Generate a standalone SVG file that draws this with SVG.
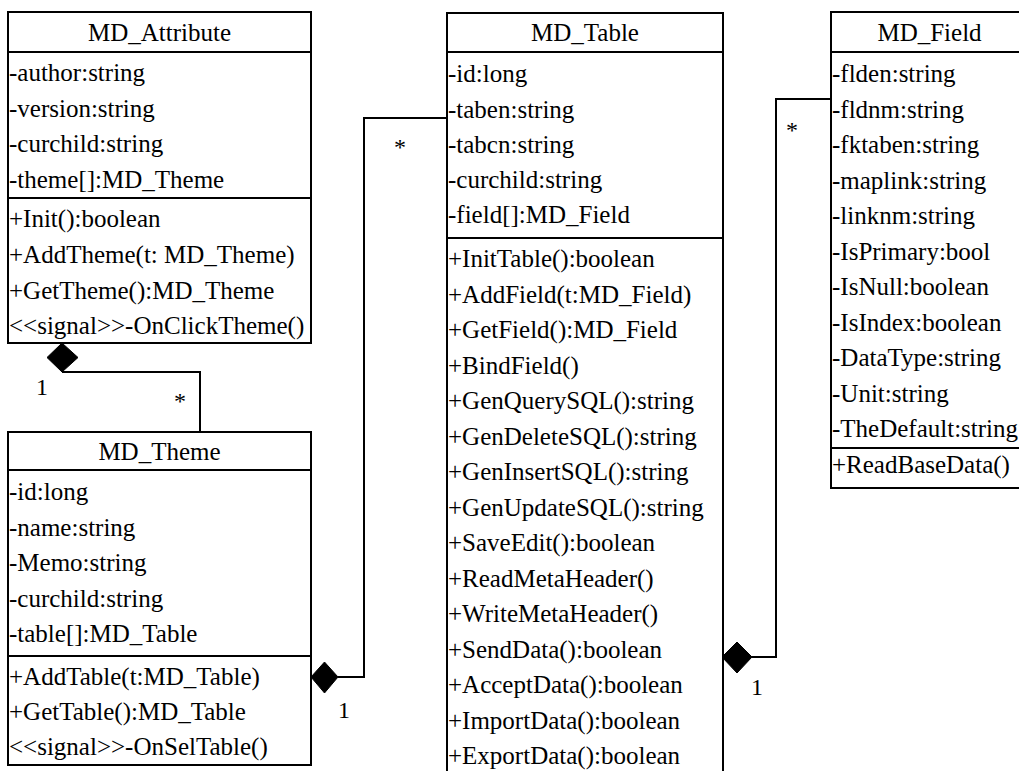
<svg xmlns="http://www.w3.org/2000/svg" width="1019" height="771" viewBox="0 0 1019 771">
<style>
.box{fill:#fff;stroke:#000;stroke-width:2}
.sep{stroke:#000;stroke-width:2}
text{font-family:"Liberation Serif","Times New Roman",serif;font-size:25px;fill:#000}
.hd{text-anchor:middle}
.conn{fill:none;stroke:#000;stroke-width:2}
.dia{fill:#000;stroke:#000;stroke-width:1}
.lbl{font-size:24px;text-anchor:middle}
</style>
<rect width="1019" height="771" fill="#fff"/>
<g id="connectors">
<polyline class="conn" points="62,372 200,372 200,432"/>
<polygon class="dia" points="62,343 78,357.5 62,372 47,357.5"/>
<polyline class="conn" points="338,677 364,677 364,118 447,118"/>
<polygon class="dia" points="311,677 324.5,662 338,677 324.5,693"/>
<polyline class="conn" points="752,657 776,657 776,99 831,99"/>
<polygon class="dia" points="722,657 737,642 752,657 737,673"/>
<text class="lbl" x="42" y="395">1</text>
<text class="lbl" x="180" y="409">*</text>
<text class="lbl" x="400" y="155">*</text>
<text class="lbl" x="344" y="718">1</text>
<text class="lbl" x="792" y="138">*</text>
<text class="lbl" x="757" y="695">1</text>
</g>
<g id="MD_Attribute">
<rect class="box" x="8" y="12" width="303" height="331"/>
<line class="sep" x1="8" y1="52" x2="311" y2="52"/>
<line class="sep" x1="8" y1="198" x2="311" y2="198"/>
<text class="hd" x="159.5" y="41">MD_Attribute</text>
<text x="9" y="81">-author:string</text>
<text x="9" y="116.5">-version:string</text>
<text x="9" y="152">-curchild:string</text>
<text x="9" y="188">-theme[]:MD_Theme</text>
<text x="9" y="227">+Init():boolean</text>
<text x="9" y="263">+AddTheme(t: MD_Theme)</text>
<text x="9" y="298.5">+GetTheme():MD_Theme</text>
<text x="9" y="334">&lt;&lt;signal&gt;&gt;-OnClickTheme()</text>
</g>
<g id="MD_Theme">
<rect class="box" x="8" y="432" width="303" height="333"/>
<line class="sep" x1="8" y1="470" x2="311" y2="470"/>
<line class="sep" x1="8" y1="656" x2="311" y2="656"/>
<text class="hd" x="159.5" y="460">MD_Theme</text>
<text x="9" y="500">-id:long</text>
<text x="9" y="535.5">-name:string</text>
<text x="9" y="571">-Memo:string</text>
<text x="9" y="606.5">-curchild:string</text>
<text x="9" y="642">-table[]:MD_Table</text>
<text x="9" y="685">+AddTable(t:MD_Table)</text>
<text x="9" y="720">+GetTable():MD_Table</text>
<text x="9" y="755">&lt;&lt;signal&gt;&gt;-OnSelTable()</text>
</g>
<g id="MD_Table">
<rect class="box" x="447" y="13" width="276" height="770"/>
<line class="sep" x1="447" y1="52" x2="723" y2="52"/>
<line class="sep" x1="447" y1="238" x2="723" y2="238"/>
<text class="hd" x="585" y="41">MD_Table</text>
<text x="448" y="82">-id:long</text>
<text x="448" y="117.5">-taben:string</text>
<text x="448" y="153">-tabcn:string</text>
<text x="448" y="188">-curchild:string</text>
<text x="448" y="223">-field[]:MD_Field</text>
<text x="448" y="267">+InitTable():boolean</text>
<text x="448" y="302.5">+AddField(t:MD_Field)</text>
<text x="448" y="338">+GetField():MD_Field</text>
<text x="448" y="373.5">+BindField()</text>
<text x="448" y="409">+GenQuerySQL():string</text>
<text x="448" y="444.5">+GenDeleteSQL():string</text>
<text x="448" y="480">+GenInsertSQL():string</text>
<text x="448" y="515.5">+GenUpdateSQL():string</text>
<text x="448" y="551">+SaveEdit():boolean</text>
<text x="448" y="586.5">+ReadMetaHeader()</text>
<text x="448" y="622">+WriteMetaHeader()</text>
<text x="448" y="657.5">+SendData():boolean</text>
<text x="448" y="693">+AcceptData():boolean</text>
<text x="448" y="728.5">+ImportData():boolean</text>
<text x="448" y="764">+ExportData():boolean</text>
</g>
<g id="MD_Field">
<rect class="box" x="831" y="12" width="197" height="476"/>
<line class="sep" x1="831" y1="52" x2="1028" y2="52"/>
<line class="sep" x1="831" y1="448" x2="1028" y2="448"/>
<text class="hd" x="929.5" y="41">MD_Field</text>
<text x="832" y="82">-flden:string</text>
<text x="832" y="117.5">-fldnm:string</text>
<text x="832" y="153">-fktaben:string</text>
<text x="832" y="188.5">-maplink:string</text>
<text x="832" y="224">-linknm:string</text>
<text x="832" y="259.5">-IsPrimary:bool</text>
<text x="832" y="295">-IsNull:boolean</text>
<text x="832" y="330.5">-IsIndex:boolean</text>
<text x="832" y="366">-DataType:string</text>
<text x="832" y="401.5">-Unit:string</text>
<text x="832" y="437">-TheDefault:string</text>
<text x="832" y="473">+ReadBaseData()</text>
</g>
</svg>
